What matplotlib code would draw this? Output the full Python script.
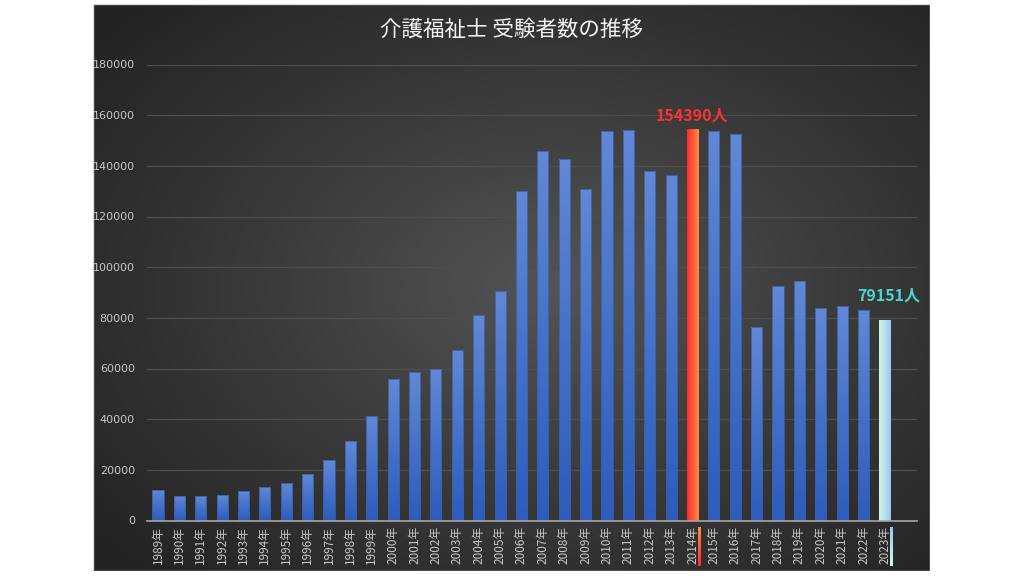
import numpy as np
import matplotlib
matplotlib.use("Agg")
import matplotlib.pyplot as plt
import matplotlib.transforms as mtrans
from matplotlib.colors import LinearSegmentedColormap
from matplotlib.patches import Rectangle

plt.rcParams['font.family'] = ['Noto Sans CJK JP', 'DejaVu Sans']

years = list(range(1989, 2024))
labels = [f"{y}年" for y in years]
values = [11973, 9868, 9516, 9987, 11628, 13402, 14982, 18544, 23977, 31567,
          41325, 55853, 58517, 59943, 67363, 81008, 90602, 130034, 145946, 142765,
          130830, 153811, 154223, 137961, 136375, 154390, 153808, 152573, 76323, 92654,
          94610, 84032, 84483, 83082, 79151]
title = "介護福祉士 受験者数の推移"
highlight_max = 2014
highlight_last = 2023
yticks = [0, 20000, 40000, 60000, 80000, 100000, 120000, 140000, 160000, 180000]

W, H = 1024, 576
fig = plt.figure(figsize=(W / 100, H / 100), dpi=100)
fig.patch.set_facecolor('white')

# background panel with radial gradient
px0, px1, py0, py1 = 93, 930, 4, 571
bg = fig.add_axes([px0 / W, 1 - py1 / H, (px1 - px0) / W, (py1 - py0) / H])
nx, ny = 400, 300
xx, yy = np.meshgrid(np.linspace(-1, 1, nx), np.linspace(-1, 1, ny))
r = np.sqrt(((xx - 0.1) / 1.0) ** 2 + ((yy - 0.0) / 1.0) ** 2) / np.sqrt(2)
r = np.clip(r, 0, 1)
bg_cmap = LinearSegmentedColormap.from_list('bg', ['#545454', '#3a3a3a', '#232323'])
bg.imshow(r, cmap=bg_cmap, aspect='auto', extent=[0, 1, 0, 1], vmin=0, vmax=1)
bg.set_axis_off()
bg.add_patch(Rectangle((0, 0), 1, 1, transform=bg.transAxes, fill=False,
                       edgecolor='#d9d9d9', lw=1.0))

# main axes
ax_l, ax_r, ax_top, ax_bot = 147.3, 917, 64.5, 520.5
ax = fig.add_axes([ax_l / W, 1 - ax_bot / H, (ax_r - ax_l) / W, (ax_bot - ax_top) / H])
ax.patch.set_alpha(0)
x = np.arange(len(years))
ax.set_xlim(-0.5, len(years) + 0.5)
ax.set_ylim(0, 180000)

blue_cmap = LinearSegmentedColormap.from_list('blue', ['#2c5cbd', '#4472c9', '#6287d6'])
red_cmap = LinearSegmentedColormap.from_list('red', ['#ff2b2b', '#ff5a3a', '#ff8c45'])
last_cmap = LinearSegmentedColormap.from_list('last', ['#cdf7e2', '#b8e2f0', '#9ec3ee'])

bw = 0.52
bars = ax.bar(x, values, width=bw, color='none', edgecolor='none', zorder=3)
for xi, b, yr in zip(x, bars, years):
    h = b.get_height()
    if yr == highlight_max:
        grad = np.linspace(0, 1, 64).reshape(1, -1)
        cmap = red_cmap
    elif yr == highlight_last:
        grad = np.linspace(0, 1, 64).reshape(1, -1)
        cmap = last_cmap
    else:
        grad = np.linspace(0, 1, 64).reshape(-1, 1)
        cmap = blue_cmap
    im = ax.imshow(grad, cmap=cmap, aspect='auto', origin='lower',
                   extent=[xi - bw / 2, xi + bw / 2, 0, h], zorder=3, vmin=0, vmax=1)
    im.set_clip_path(b)
    if yr not in (highlight_max, highlight_last):
        ax.add_patch(Rectangle((xi - bw / 2, 0), bw, h, fill=False,
                               edgecolor='#3d5f9e', lw=0.6, zorder=4))

ax.set_yticks(yticks)
ax.set_yticklabels([str(v) for v in yticks], fontsize=8, color='#c8c8c8',
                   family=['DejaVu Sans'])
ax.set_xticks(x)
ax.set_xticklabels(labels, rotation=90, fontsize=8.5, color='#c8c8c8')
ax.tick_params(axis='both', length=0)
ax.tick_params(axis='y', pad=9)
ax.tick_params(axis='x', pad=4)
ax.grid(axis='y', color='#4e4e4e', lw=0.9, zorder=0)
ax.set_axisbelow(True)
for s in ['top', 'right', 'left']:
    ax.spines[s].set_visible(False)
ax.spines['bottom'].set_color('#a6a6a6')
ax.spines['bottom'].set_linewidth(1.2)
ax.spines['bottom'].set_zorder(5)

# small coloured strips beside highlighted tick labels
trans = mtrans.blended_transform_factory(ax.transData, ax.transAxes)
for yr, cmap in [(highlight_max, red_cmap), (highlight_last, last_cmap)]:
    i = years.index(yr)
    sx = i + 0.25
    ax.imshow(np.linspace(0, 1, 32).reshape(-1, 1), cmap=cmap, aspect='auto',
              origin='lower', extent=[sx, sx + 0.1, -0.1, -0.015],
              transform=trans, clip_on=False, zorder=6, vmin=0, vmax=1)

# annotations
imax = years.index(highlight_max)
ax.text(imax, values[imax] + 2500, f"{values[imax]}人", ha='center', va='bottom',
        color='#ff3030', fontsize=11.5, fontweight='bold')
ilast = years.index(highlight_last)
ax.text(ilast + 0.2, values[ilast] + 6500, f"{values[ilast]}人", ha='center', va='bottom',
        color='#50d2d2', fontsize=11.5, fontweight='bold')

fig.text((px0 + px1) / 2 / W, 1 - 30 / H, title, ha='center', va='center',
         color='#f2f2f2', fontsize=15.5)

fig.savefig('out.png', dpi=100, facecolor='white')
